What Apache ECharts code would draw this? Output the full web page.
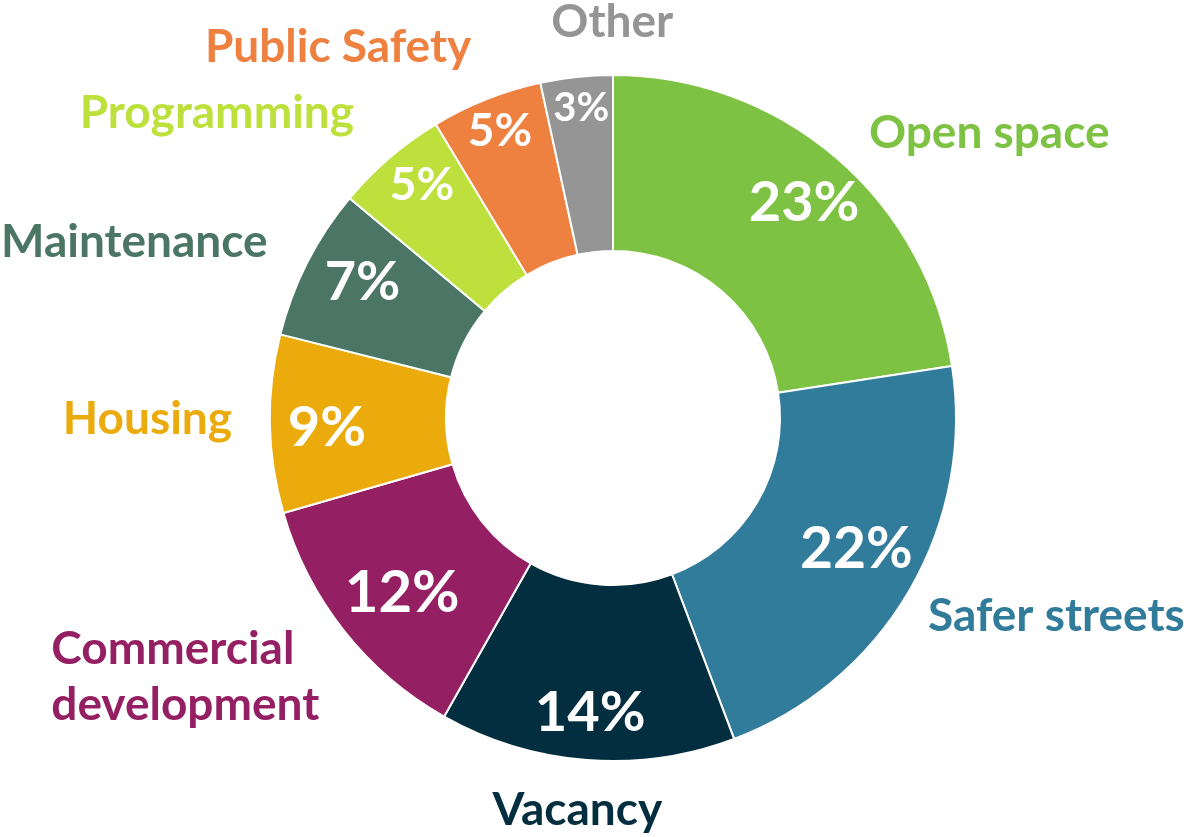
<!DOCTYPE html>
<html><head><meta charset="utf-8">
<script src="https://cdn.jsdelivr.net/npm/echarts@6/dist/echarts.min.js"></script>
<style>html,body{margin:0;padding:0;background:#fff}#c{width:1193px;height:837px}</style>
</head><body><div id="c"></div>
<script>
const categories = ['Open space','Safer streets','Vacancy','Commercial\ndevelopment','Housing','Maintenance','Programming','Public Safety','Other'];
// slice shares
const values = [22.6,21.7,13.95,12.35,8.4,7.15,5.3,5.25,3.4];
// percentages printed on the wedges
const pctLabels = ['23%','22%','14%','12%','9%','7%','5%','5%','3%'];
const colors = ['#7dc242','#327c9b','#032e3f','#951f63','#ebab0c','#4b7565','#bde03d','#ee8040','#959595'];
const pctSizes = [56,57,56,58,56,54,46,46,40];

// label nudges (layout only)
const nameShift = [[8,-2,null],[-12,10,null],[-2,20,'center'],[-264,28,'left'],[-3,-5,null],[-8,-7,null],[-11,-22,null],[1,-24,null],[44,-25,'center']];
const pctShift = [[-3,11],[-14,-19],[0,-2],[23,-9],[12,5],[15,0],[3,-7],[-3,-10],[0,-14]];

const FONT = 'Lato';
const chart = echarts.init(document.getElementById('c'));
chart.setOption({
  animation:false,
  series:[
    {
      type:'pie', center:[613,418], radius:[167,343], startAngle:90, clockwise:true,
      avoidLabelOverlap:false,
      itemStyle:{borderColor:'#fff', borderWidth:2},
      label:{show:true, position:'outside', fontFamily:FONT, fontWeight:'bold', fontSize:46, lineHeight:56,
        formatter:p=>p.name},
      labelLine:{show:false, length:30, length2:0},
      labelLayout:p=>{const s=nameShift[p.dataIndex]; const o={dx:s[0], dy:s[1]}; if(s[2]) o.align=s[2]; return o;},
      data: categories.map((c,i)=>({name:c, value:values[i], itemStyle:{color:colors[i]}, label:{color:colors[i]}}))
    },
    {
      type:'pie', center:[613,418], radius:[245,345], startAngle:90, clockwise:true, silent:true, z:5,
      avoidLabelOverlap:false,
      itemStyle:{color:'rgba(0,0,0,0)'},
      label:{show:true, position:'inside', color:'#fff', fontFamily:FONT, fontWeight:'bold',
        formatter:p=>pctLabels[p.dataIndex]},
      labelLine:{show:false},
      labelLayout:p=>({dx:pctShift[p.dataIndex][0], dy:pctShift[p.dataIndex][1]}),
      data: categories.map((c,i)=>({name:c, value:values[i], label:{fontSize:pctSizes[i]}}))
    }
  ]
});
</script></body></html>
